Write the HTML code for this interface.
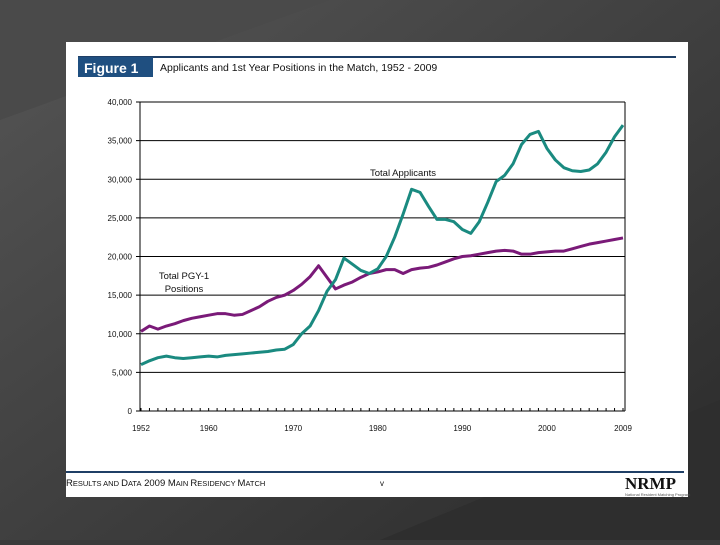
<!DOCTYPE html>
<html><head><meta charset="utf-8"><style>
body{margin:0;width:720px;height:540px;overflow:hidden;background:#3a3a3a;font-family:"Liberation Sans",sans-serif}
</style></head><body>
<svg width="720" height="540" xmlns="http://www.w3.org/2000/svg">
<defs><linearGradient id="bg" x1="0" y1="0" x2="1" y2="1"><stop offset="0" stop-color="#555"/><stop offset="1" stop-color="#2a2a2a"/></linearGradient></defs>
<rect width="720" height="540" fill="url(#bg)"/>
<polygon points="0,0 330,0 0,120" fill="#4a4a4a"/>
<polygon points="380,540 720,400 720,540" fill="#2e2e2e"/>
<rect x="66" y="42" width="622" height="455" fill="#fff"/>
<rect x="78" y="56" width="598" height="2" fill="#1f3f66"/>
<rect x="78" y="57" width="75" height="20" fill="#1f4f80"/>
<text x="84" y="73" font-size="14" font-weight="bold" fill="#fff">Figure 1</text>
<text x="160" y="71" font-size="10.5" fill="#111">Applicants and 1st Year Positions in the Match, 1952 - 2009</text>
<g id="chart"></g>
<rect x="66" y="471" width="618" height="2" fill="#1f3f66"/>
<text x="66" y="486" font-size="9.5" fill="#111">R<tspan font-size="7.5">ESULTS AND </tspan>D<tspan font-size="7.5">ATA</tspan> 2009 M<tspan font-size="7.5">AIN </tspan>R<tspan font-size="7.5">ESIDENCY </tspan>M<tspan font-size="7.5">ATCH</tspan></text>
<text x="380" y="486" font-size="8" fill="#111">v</text>
<text x="625" y="489" font-size="17" font-weight="bold" font-family="Liberation Serif,serif" fill="#111">NRMP</text>
<text x="625" y="496" font-size="4" fill="#555">National Resident Matching Program</text>
</svg>
<script>
const years=[];for(let y=1952;y<=2009;y++)years.push(y);
const applicants=[6000,6500,6900,7100,6900,6800,6900,7000,7100,7000,
7200,7300,7400,7500,7600,7700,7900,8000,8600,10000,
11000,13000,15500,17000,19800,19000,18200,17800,18400,20000,
22500,25500,28700,28300,26500,24800,24800,24500,23500,23000,
24500,27000,29700,30500,32000,34500,35800,36200,34000,32500,
31500,31100,31000,31200,32000,33500,35500,37000];
const positions=[10300,11000,10600,11000,11300,11700,12000,12200,12400,12600,12600,12400,12500,13000,13500,14200,14700,15000,15600,16400,17400,18800,17300,15800,16300,16700,17300,17800,18000,18300,18300,17800,18300,18500,18600,18900,19300,19700,20000,20100,20300,20500,20700,20800,20700,20300,20300,20500,20600,20700,20700,21000,21300,21600,21800,22000,22200,22400];
const yTicks=[0,5000,10000,15000,20000,25000,30000,35000,40000];
const yTickLabels=["0","5,000","10,000","15,000","20,000","25,000","30,000","35,000","40,000"];
const xTicks=[1952,1960,1970,1980,1990,2000,2009];
const NS="http://www.w3.org/2000/svg";
const g=document.getElementById('chart');
const X0=140,X1=625,Y0=411,Y1=102;
const sx=v=>X0+(v-1952)/(2009-1952)*(X1-X0-3)+1;
const sy=v=>Y0-(v/40000)*(Y0-Y1);
function mk(t,a){const e=document.createElementNS(NS,t);for(const k in a)e.setAttribute(k,a[k]);g.appendChild(e);return e;}
yTicks.forEach((v,i)=>{
 const l=mk('line',{x1:X0-4,x2:X1,y1:sy(v),y2:sy(v),stroke:'#000','stroke-width':1});
 
 
 const t=mk('text',{x:X0-8,y:sy(v)+3,'font-size':8,'text-anchor':'end',fill:'#111'});
 t.textContent=yTickLabels[i];
 
 
});
const ax=mk('line',{x1:X0,x2:X0,y1:Y1,y2:Y0,stroke:'#000'});


const ax2=mk('line',{x1:X1,x2:X1,y1:Y1,y2:Y0,stroke:'#000'});


years.forEach(y=>{
 const tk=mk('line',{x1:sx(y),x2:sx(y),y1:Y0,y2:Y0-3,stroke:'#000'});
 
 
});
xTicks.forEach(y=>{
 const t=mk('text',{x:sx(y),y:431,'font-size':8,'text-anchor':'middle',fill:'#111'});
 t.textContent=y;
 
 
});
function line(vals,color,name){
 const p=mk('polyline',{points:vals.map((v,i)=>sx(years[i])+','+sy(v)).join(' '),fill:'none',stroke:color,'stroke-width':3,'stroke-linejoin':'round'});
 
 
}
line(positions,'#7a1a78','positions-line');
line(applicants,'#1a8a80','applicants-line');
function lab(x,y,s,n){const t=mk('text',{x:x,y:y,'font-size':9.5,fill:'#111','text-anchor':'middle'});t.textContent=s;
 
 }
lab(403,176,'Total Applicants','applicants-label');
lab(184,279,'Total PGY-1','positions-label');
lab(184,292,'Positions','positions-label-2');
</script>
</body></html>
